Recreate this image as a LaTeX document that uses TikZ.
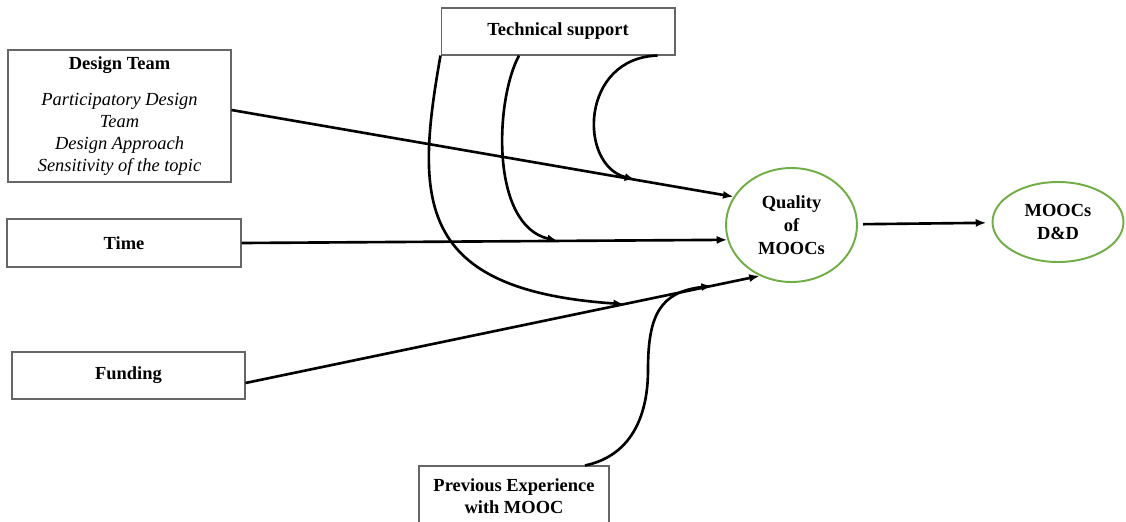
\documentclass[tikz,border=0pt]{standalone}
\usepackage{fontspec}
\setmainfont{Liberation Serif}
\usetikzlibrary{shapes.geometric,arrows.meta}
\definecolor{ovalgreen}{HTML}{70AD47}
\tikzset{
  box/.style={draw=black!60,line width=0.6pt,fill=white,inner sep=0pt,align=center,font=\fontsize{10.5}{12.5}\selectfont\bfseries},
  oval/.style={ellipse,draw=ovalgreen,line width=1.1pt,inner sep=0pt,align=center,font=\fontsize{10.5}{13}\selectfont\bfseries},
  flow/.style={-{Latex[length=6pt,width=4.6pt]},line width=1.5pt}
}
\begin{document}
\begin{tikzpicture}[x=0.02cm,y=-0.02cm]
\clip (0,0) rectangle (1126,521);
\node[box,minimum width=4.46cm,minimum height=2.64cm] (design) at (119.5,116)
  {Design Team\\[8pt]\normalfont\itshape Participatory Design\\\normalfont\itshape Team\\\normalfont\itshape Design Approach\\\normalfont\itshape Sensitivity of the topic};
\node[box,minimum width=4.68cm,minimum height=0.96cm] (time) at (124,243) {Time};
\node[box,minimum width=4.66cm,minimum height=0.94cm] (funding) at (128.5,375.5) {Funding};
\node[box,minimum width=4.68cm,minimum height=0.94cm] (tech) at (558,31.5) {Technical support};
\node[box,minimum width=3.8cm,minimum height=1.2cm] (prev) at (514,496) {Previous Experience\\with MOOC};
\node[oval,minimum width=2.62cm,minimum height=2.28cm] (quality) at (791.5,225) {Quality\\of\\MOOCs};
\node[oval,minimum width=2.62cm,minimum height=1.6cm] (mooc) at (1058,222) {MOOCs\\D\&D};

\draw[flow] ([yshift=0.12cm]design.east) -- (quality.154) coordinate[pos=0.804] (designA);
\draw[flow] (time.east) -- (quality.193) coordinate[pos=0.651] (timeA);
\draw[flow] ([yshift=-0.15cm]funding.east) -- (quality.238)
  coordinate[pos=0.736] (fundA) coordinate[pos=0.907] (fundB);
\draw[flow,shorten <=3pt,shorten >=3pt] (quality) -- (mooc);

\draw[flow] (tech.south west) .. controls (415,200) and (415,290) .. (fundA);
\draw[flow] ([xshift=-0.78cm]tech.south) .. controls (495,100) and (490,225) .. (timeA);
\draw[flow] ([xshift=-0.36cm]tech.south east) .. controls (580,58) and (578,165) .. (designA);
\draw[flow] ([xshift=1.42cm]prev.north) .. controls (635,455) and (648,410) .. (648,370)
  .. controls (648,315) and (660,292) .. (fundB);
\end{tikzpicture}
\end{document}
